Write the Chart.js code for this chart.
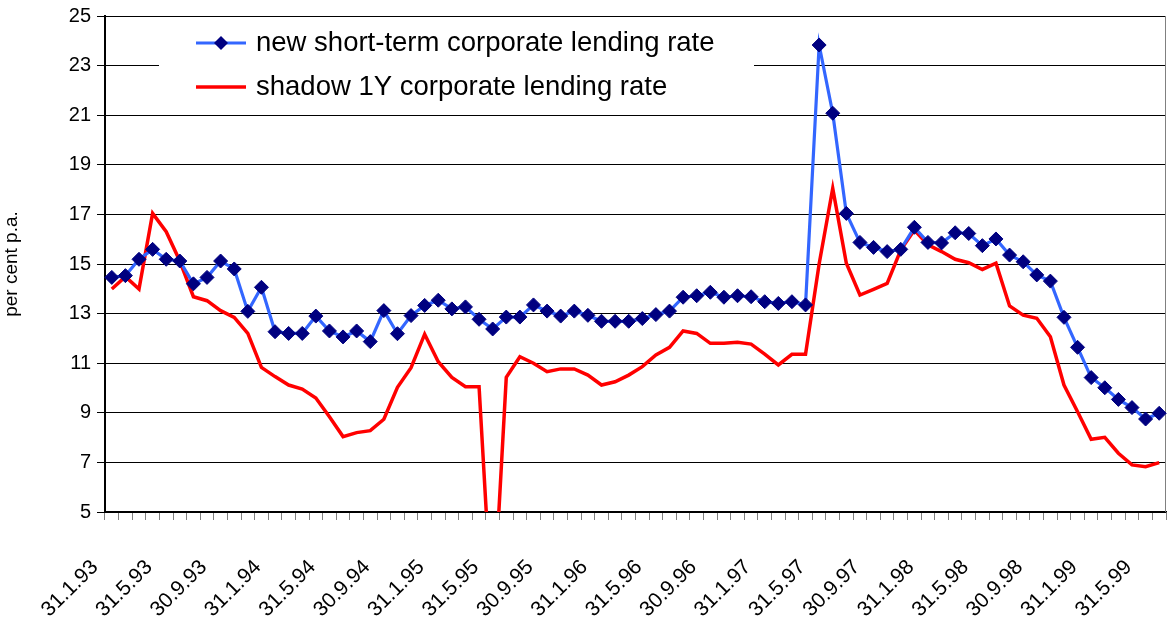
<!DOCTYPE html>
<html>
<head>
<meta charset="utf-8">
<script src="https://cdn.jsdelivr.net/npm/chart.js@4.4.1/dist/chart.umd.min.js"></script>
<style>
    html, body { margin: 0; padding: 0; background: #fff; }
    #wrap { width: 1168px; height: 617px; }
</style>
</head>
<body>
<div id="wrap"><canvas id="rate-chart" width="1168" height="617"></canvas></div>
<script>
// month-end dates, Jan 1993 - Jun 1999
const months = [
    '31.1.93', '28.2.93', '31.3.93', '30.4.93', '31.5.93', '30.6.93', '31.7.93', '31.8.93', '30.9.93', '31.10.93', '30.11.93', '31.12.93',
    '31.1.94', '28.2.94', '31.3.94', '30.4.94', '31.5.94', '30.6.94', '31.7.94', '31.8.94', '30.9.94', '31.10.94', '30.11.94', '31.12.94',
    '31.1.95', '28.2.95', '31.3.95', '30.4.95', '31.5.95', '30.6.95', '31.7.95', '31.8.95', '30.9.95', '31.10.95', '30.11.95', '31.12.95',
    '31.1.96', '29.2.96', '31.3.96', '30.4.96', '31.5.96', '30.6.96', '31.7.96', '31.8.96', '30.9.96', '31.10.96', '30.11.96', '31.12.96',
    '31.1.97', '28.2.97', '31.3.97', '30.4.97', '31.5.97', '30.6.97', '31.7.97', '31.8.97', '30.9.97', '31.10.97', '30.11.97', '31.12.97',
    '31.1.98', '28.2.98', '31.3.98', '30.4.98', '31.5.98', '30.6.98', '31.7.98', '31.8.98', '30.9.98', '31.10.98', '30.11.98', '31.12.98',
    '31.1.99', '28.2.99', '31.3.99', '30.4.99', '31.5.99', '30.6.99'
];

const newShortTermRate = [
    14.46, 14.53, 15.19, 15.59, 15.19, 15.12, 14.20, 14.46, 15.12, 14.80, 13.09, 14.06,
    12.27, 12.20, 12.20, 12.90, 12.30, 12.06, 12.30, 11.87, 13.12, 12.19, 12.92, 13.33,
    13.54, 13.19, 13.27, 12.77, 12.38, 12.86, 12.86, 13.35, 13.10, 12.90, 13.10, 12.93,
    12.69, 12.69, 12.69, 12.80, 12.96, 13.10, 13.66, 13.72, 13.86, 13.66, 13.72, 13.68,
    13.48, 13.41, 13.48, 13.35, 23.83, 21.08, 17.04, 15.87, 15.67, 15.50, 15.59, 16.48,
    15.87, 15.85, 16.26, 16.23, 15.74, 16.01, 15.36, 15.09, 14.56, 14.31, 12.85, 11.64,
    10.42, 10.01, 9.54, 9.21, 8.75, 8.98
];

const shadowRate = [
    13.99, 14.49, 13.99, 17.04, 16.30, 15.12, 13.68, 13.52, 13.12, 12.85, 12.20, 10.83,
    10.46, 10.12, 9.96, 9.60, 8.84, 8.04, 8.20, 8.28, 8.74, 10.03, 10.82, 12.17,
    11.06, 10.43, 10.05, 10.05, 0.50, 10.43, 11.26, 11.00, 10.66, 10.77, 10.77, 10.52,
    10.12, 10.25, 10.52, 10.86, 11.33, 11.64, 12.30, 12.20, 11.80, 11.80, 11.84, 11.77,
    11.37, 10.93, 11.36, 11.36, 15.00, 18.05, 15.03, 13.75, 13.98, 14.22, 15.56, 16.37,
    15.77, 15.50, 15.19, 15.05, 14.78, 15.03, 13.31, 12.94, 12.81, 12.07, 10.12, 9.04,
    7.93, 8.01, 7.37, 6.90, 6.83, 6.99
];

const seriesNames = ['new short-term corporate lending rate', 'shadow 1Y corporate lending rate'];
const yRange = [5, 25];
const yStep = 2;
const labelEvery = 4;

const FONT = "'Liberation Sans', Arial, sans-serif";

document.addEventListener('DOMContentLoaded', function() {
    drawChart();
});

// legend sits inside the plot on a white box, like the original
const insideLegend = {
    id: 'insideLegend',
    beforeDatasetsDraw(chart) {
        const ctx = chart.ctx;
        const area = chart.chartArea;
        ctx.save();
        ctx.fillStyle = '#fff';
        ctx.fillRect(159, area.top + 5, 595, 88);

        chart.data.datasets.forEach((ds, i) => {
            const y = 43 + i * 44;
            ctx.strokeStyle = ds.borderColor;
            ctx.lineWidth = ds.borderWidth;
            ctx.beginPath();
            ctx.moveTo(196, y);
            ctx.lineTo(246, y);
            ctx.stroke();
            if (ds.pointRadius > 0) {
                const r = ds.pointRadius;
                ctx.fillStyle = ds.pointBackgroundColor;
                ctx.beginPath();
                ctx.moveTo(221 - r, y);
                ctx.lineTo(221, y - r);
                ctx.lineTo(221 + r, y);
                ctx.lineTo(221, y + r);
                ctx.closePath();
                ctx.fill();
            }
            ctx.fillStyle = '#000';
            ctx.font = '27.5px ' + FONT;
            ctx.textBaseline = 'middle';
            ctx.fillText(ds.label, 256, y);
        });

        // thin grey frame on the right edge
        ctx.strokeStyle = '#808080';
        ctx.lineWidth = 1;
        ctx.beginPath();
        ctx.moveTo(area.right - 0.5, area.top);
        ctx.lineTo(area.right - 0.5, area.bottom);
        ctx.stroke();
        ctx.restore();
    }
};

function drawChart() {
    const ctx = document.getElementById('rate-chart').getContext('2d');
    new Chart(ctx, {
        type: 'line',
        data: {
            labels: months,
            datasets: [{
                label: seriesNames[0],
                data: newShortTermRate,
                borderColor: '#3366FF',
                borderWidth: 3.2,
                pointStyle: 'rectRot',
                pointRadius: 7,
                pointBackgroundColor: '#000080',
                pointBorderColor: '#000080',
                pointBorderWidth: 1,
                tension: 0
            }, {
                label: seriesNames[1],
                data: shadowRate,
                borderColor: '#FF0000',
                borderWidth: 3.5,
                pointRadius: 0,
                tension: 0,
                clip: 0
            }]
        },
        options: {
            responsive: false,
            animation: false,
            // fixed plot box: no auto padding for the markers
            layout: { autoPadding: false, padding: { left: 0, right: 2, top: 16, bottom: 0 } },
            plugins: {
                legend: { display: false },
                tooltip: { enabled: false }
            },
            scales: {
                x: {
                    offset: true,
                    grid: {
                        offset: true,
                        drawOnChartArea: false,
                        drawTicks: true,
                        tickLength: 8,
                        tickColor: '#808080'
                    },
                    border: { color: '#000', width: 1.5 },
                    ticks: {
                        autoSkip: false,
                        minRotation: 45,
                        maxRotation: 45,
                        padding: 35,
                        labelOffset: -17,
                        color: '#000',
                        font: { family: FONT, size: 21 },
                        callback: function(value, index) {
                            return index % labelEvery === 0 ? months[index] : '';
                        }
                    },
                    afterFit: function(scale) {
                        scale.height = 105;
                        scale.paddingLeft = 0;
                        scale.paddingRight = 0;
                    }
                },
                y: {
                    min: yRange[0],
                    max: yRange[1],
                    grid: {
                        color: '#000',
                        lineWidth: 1,
                        tickLength: 8,
                        tickColor: '#000'
                    },
                    border: { color: '#000', width: 2 },
                    ticks: {
                        stepSize: yStep,
                        padding: 6,
                        color: '#000',
                        font: { family: FONT, size: 20 }
                    },
                    title: {
                        display: true,
                        text: 'per cent p.a.',
                        color: '#000',
                        font: { family: FONT, size: 19 },
                        padding: { top: 0, bottom: 0 }
                    },
                    afterFit: function(scale) {
                        scale.width = 105;
                        scale.paddingTop = 0;
                        scale.paddingBottom = 0;
                    }
                }
            }
        },
        plugins: [insideLegend]
    });
}
</script>
</body>
</html>
